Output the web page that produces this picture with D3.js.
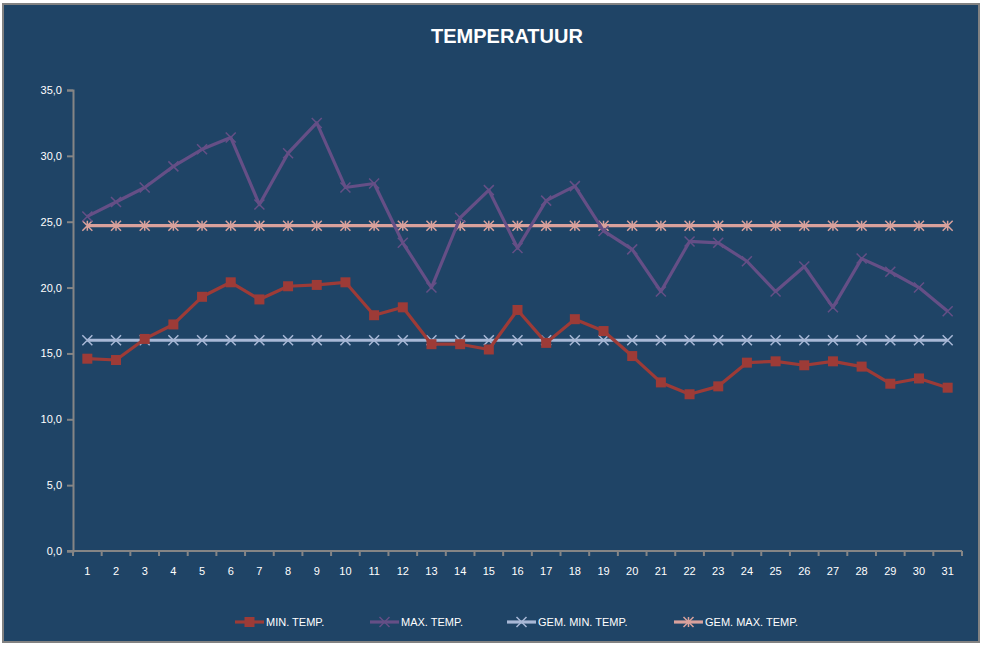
<!DOCTYPE html>
<html>
<head>
<meta charset="utf-8">
<script src="https://cdn.jsdelivr.net/npm/d3@7"></script>
<style>
  body { margin: 0; background: #fff; }
  svg { display: block; font-family: "Liberation Sans", "DejaVu Sans", sans-serif; }
</style>
</head>
<body>
<div id="chart"></div>
<script>
// data
var days = [1,2,3,4,5,6,7,8,9,10,11,12,13,14,15,16,17,18,19,20,21,22,23,24,25,26,27,28,29,30,31];
var minTemp = [14.6,14.5,16.1,17.2,19.3,20.4,19.1,20.1,20.2,20.4,17.9,18.5,15.7,15.7,15.3,18.3,15.8,17.6,16.7,14.8,12.8,11.9,12.5,14.3,14.4,14.1,14.4,14.0,12.7,13.1,12.4];
var maxTemp = [25.4,26.5,27.6,29.2,30.5,31.4,26.3,30.2,32.5,27.6,27.9,23.4,20.0,25.3,27.4,23.0,26.6,27.7,24.3,22.9,19.7,23.5,23.4,22.0,19.7,21.6,18.5,22.2,21.2,20.0,18.2];
var gemMin = [16.0,16.0,16.0,16.0,16.0,16.0,16.0,16.0,16.0,16.0,16.0,16.0,16.0,16.0,16.0,16.0,16.0,16.0,16.0,16.0,16.0,16.0,16.0,16.0,16.0,16.0,16.0,16.0,16.0,16.0,16.0];
var gemMax = [24.7,24.7,24.7,24.7,24.7,24.7,24.7,24.7,24.7,24.7,24.7,24.7,24.7,24.7,24.7,24.7,24.7,24.7,24.7,24.7,24.7,24.7,24.7,24.7,24.7,24.7,24.7,24.7,24.7,24.7,24.7];
var yTicks = [0,5,10,15,20,25,30,35];
var seriesNames = ["MIN. TEMP.", "MAX. TEMP.", "GEM. MIN. TEMP.", "GEM. MAX. TEMP."];

var W = 987, H = 648;
var margin = {top: 90, right: 25, bottom: 97, left: 73};

var series = [
  {name: seriesNames[0], values: minTemp, color: "#9d3b37", marker: "square"},
  {name: seriesNames[1], values: maxTemp, color: "#654f86", marker: "x"},
  {name: seriesNames[2], values: gemMin, color: "#a8b8d6", marker: "x"},
  {name: seriesNames[3], values: gemMax, color: "#d9a19c", marker: "star"}
];

var svg = d3.select("#chart").append("svg")
    .attr("width", W)
    .attr("height", H);

// chart area background + border
svg.append("rect")
    .attr("x", 3).attr("y", 4)
    .attr("width", 976).attr("height", 638)
    .attr("fill", "#1f4466")
    .attr("stroke", "#828282")
    .attr("stroke-width", 2);

svg.append("text")
    .attr("x", 507).attr("y", 43)
    .attr("text-anchor", "middle")
    .attr("fill", "#fff")
    .attr("font-size", 20)
    .attr("font-weight", "bold")
    .text("TEMPERATUUR");

var x = d3.scaleBand()
    .domain(days)
    .range([margin.left, W - margin.right]);

var y = d3.scaleLinear()
    .domain([0, 35])
    .range([H - margin.bottom, margin.top]);

var fmt = function(v) { return d3.format(".1f")(v).replace(".", ","); };

// y axis
var yAxis = svg.append("g")
    .attr("transform", "translate(" + margin.left + ",0)")
    .call(d3.axisLeft(y).tickValues(yTicks).tickFormat(fmt).tickSize(6).tickPadding(5));

// x axis
var xAxis = svg.append("g")
    .attr("transform", "translate(0," + (H - margin.bottom) + ")")
    .call(d3.axisBottom(x).tickSize(0).tickPadding(16));

// tick marks between categories
xAxis.selectAll(".sep")
    .data(days.concat([32]))
    .enter().append("line")
    .attr("class", "sep")
    .attr("x1", function(d) { return d <= 31 ? x(d) : x(31) + x.bandwidth(); })
    .attr("x2", function(d) { return d <= 31 ? x(d) : x(31) + x.bandwidth(); })
    .attr("y1", 0).attr("y2", 5)
    .attr("stroke", "#858585")
    .attr("stroke-width", 2);

[yAxis, xAxis].forEach(function(a) {
  a.select(".domain").attr("stroke", "#858585").attr("stroke-width", 2);
  a.selectAll(".tick line").attr("stroke", "#858585").attr("stroke-width", 2);
  a.selectAll(".tick text").attr("fill", "#fff").attr("font-size", 11)
    .attr("font-family", "Liberation Sans, sans-serif");
});
xAxis.select(".domain").attr("d", "M" + (margin.left - 6) + ",0H" + (W - margin.right));

function drawMarker(g, type, color) {
  if (type === "square") {
    g.append("rect")
      .attr("x", -5).attr("y", -5)
      .attr("width", 10).attr("height", 10)
      .attr("fill", color);
  } else {
    var s = 5;
    g.append("path")
      .attr("d", "M" + (-s) + "," + (-s) + "L" + s + "," + s + "M" + (-s) + "," + s + "L" + s + "," + (-s) +
        (type === "star" ? "M0," + (-s) + "L0," + s : ""))
      .attr("stroke", color)
      .attr("stroke-width", 1.5)
      .attr("fill", "none");
  }
}

var line = d3.line()
    .x(function(d, i) { return x(days[i]) + x.bandwidth() / 2; })
    .y(function(d) { return y(d); });

var order = [2, 3, 1, 0];
order.forEach(function(k) {
  var s = series[k];
  svg.append("path")
      .datum(s.values)
      .attr("d", line)
      .attr("fill", "none")
      .attr("stroke", s.color)
      .attr("stroke-width", 3.2)
      .attr("stroke-linejoin", "round");

  svg.selectAll(".m" + k)
      .data(s.values)
      .enter().append("g")
      .attr("class", "m" + k)
      .attr("transform", function(d, i) {
        return "translate(" + (x(days[i]) + x.bandwidth() / 2) + "," + y(d) + ")";
      })
      .each(function() { drawMarker(d3.select(this), s.marker, s.color); });
});

// legend
var legendX = [235, 370, 507, 674];
var legend = svg.selectAll(".legend")
    .data(series)
    .enter().append("g")
    .attr("class", "legend")
    .attr("transform", function(d, i) { return "translate(" + legendX[i] + ",622)"; });

legend.append("line")
    .attr("x1", 0).attr("x2", 29)
    .attr("stroke", function(d) { return d.color; })
    .attr("stroke-width", 3.2);

legend.each(function(d) {
  var g = d3.select(this).append("g").attr("transform", "translate(14.5,0)");
  drawMarker(g, d.marker, d.color);
});

legend.append("text")
    .attr("x", 31).attr("y", 4)
    .attr("fill", "#fff")
    .attr("font-size", 11)
    .text(function(d) { return d.name; });
</script>
</body>
</html>
